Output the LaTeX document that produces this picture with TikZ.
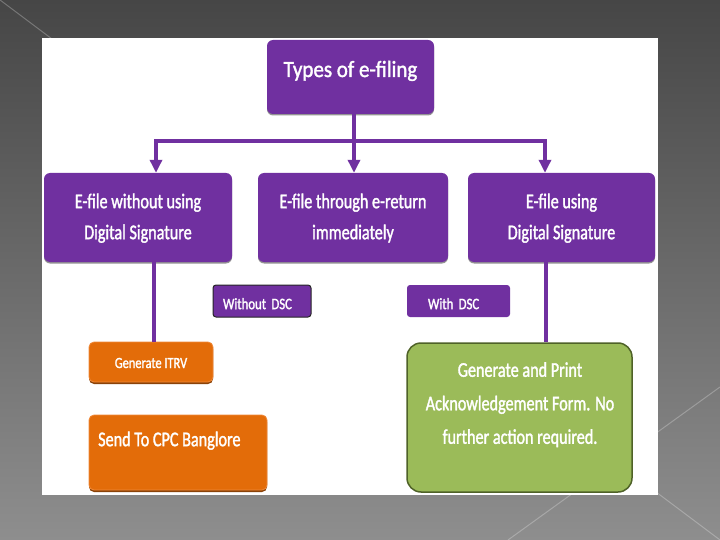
\documentclass[tikz,border=0pt]{standalone}
\usepackage{fontspec}
\setmainfont{Carlito}[FakeStretch=0.77, FakeBold=1.5]
\newfontfamily\titlefont{Carlito}[FakeStretch=0.9, FakeBold=1.5]
\newfontfamily\smallfont{Carlito}[FakeStretch=0.8, FakeBold=1.5]
\usetikzlibrary{arrows.meta,shadows}
\definecolor{purp}{HTML}{7030A0}
\definecolor{orng}{HTML}{E36C09}
\definecolor{orngdark}{HTML}{8A4208}
\definecolor{orngrim}{HTML}{F08A3A}
\definecolor{grn}{HTML}{9BBB59}
\definecolor{grndark}{HTML}{4F6228}
\definecolor{bgtop}{HTML}{464646}
\definecolor{bgbot}{HTML}{8E8E8E}
\tikzset{
  pbox/.style={rectangle, rounded corners=6pt, fill=purp, inner sep=0pt,
    text=white, align=center,
    drop shadow={shadow xshift=0pt, shadow yshift=-1.5pt, fill=black!70, opacity=0.6}},
  obox/.style={rectangle, rounded corners=5pt, fill=orng, draw=orngrim, line width=0.8pt,
    inner sep=0pt, text=white,
    drop shadow={shadow xshift=0pt, shadow yshift=-2pt, fill=orngdark, opacity=1}},
  gbox/.style={rectangle, rounded corners=14pt, fill=grn, draw=grndark, line width=1.5pt,
    inner sep=0pt},
  txt/.style={text=white, inner sep=0pt},
  conn/.style={draw=purp, line width=4pt},
  arr/.style={conn, -{Triangle[width=12pt,length=13pt]}},
  bgline/.style={draw=white, draw opacity=0.25, line width=1pt},
}
\newcommand\mainsize{\fontsize{21}{31}\selectfont}
\begin{document}
\begin{tikzpicture}[x=1pt,y=-1pt]
\useasboundingbox (0,0) rectangle (720,540);
% background
\shade[top color=bgtop, bottom color=bgbot] (0,0) rectangle (720,540);
\draw[bgline] (0,0) -- (720,540);
\draw[bgline] (720,387) -- (508,540);
% white panel
\fill[white] (42,38) rectangle (658,495);

% boxes
\node[pbox, minimum width=167pt, minimum height=74pt, text height=10pt, text depth=10pt,
  font=\titlefont\fontsize{23.3}{28}\selectfont] (top) at (350.5,77) {Types of e-filing};
\node[pbox, minimum width=188pt, minimum height=89pt, font=\mainsize] (L) at (138,217.5)
  {E-file without using\strut\\Digital Signature\strut};
\node[pbox, minimum width=190pt, minimum height=89pt, font=\mainsize] (M) at (353,217.5)
  {E-file through e-return\strut\\immediately\strut};
\node[pbox, minimum width=187pt, minimum height=89pt, font=\mainsize] (R) at (561.5,217.5)
  {E-file using\strut\\Digital Signature\strut};

\node[rectangle, rounded corners=3pt, fill=purp, draw=black!85, line width=1pt,
  minimum width=98pt, minimum height=32pt, inner xsep=10pt, inner ysep=0pt,
  text width=78pt, align=left, text=white, text height=16.3pt, text depth=0pt,
  font=\smallfont\fontsize{16}{19}\selectfont] (wo) at (262,301) {Without DSC};
\node[rectangle, rounded corners=3pt, fill=purp,
  minimum width=103pt, minimum height=32pt, inner xsep=21pt, inner ysep=0pt,
  text width=61pt, align=left, text=white, text height=16.3pt, text depth=0pt,
  font=\smallfont\fontsize{16}{19}\selectfont] (wi) at (458.5,301) {With DSC};

\node[obox, minimum width=124pt, minimum height=40pt, text height=12pt, text depth=0pt,
  font=\smallfont\fontsize{15.5}{19}\selectfont] (itrv) at (151,362) {Generate ITRV};
\node[obox, minimum width=178pt, minimum height=75pt] (cpc) at (178,452.5) {};
\node[txt, anchor=west, font=\mainsize] (cpct) at (98,440) {Send To CPC Banglore\strut};

\node[gbox, minimum width=225pt, minimum height=149pt] (ack) at (519.5,417.5) {};
\node[txt, align=center, font=\fontsize{21}{33.5}\selectfont] (ackt) at (520,403.6)
  {Generate and Print\strut\\Acknowledgement Form. No\strut\\further action required.\strut};

% connectors
\coordinate (jl) at (156,141);
\coordinate (jr) at (545,141);
\coordinate (jm) at (354,141);
\draw[arr] (jm |- top.south) -- (jm |- M.north);
\draw[arr] (jm) -| (jl |- L.north);
\draw[arr] (jm) -| (jr |- R.north);
\coordinate (cl) at (153.5,300);
\coordinate (cr) at (545.5,300);
\draw[conn] (cl |- L.south) -- (cl |- itrv.north);
\draw[conn] (cr |- R.south) -- (cr |- ack.north);
\end{tikzpicture}
\end{document}
